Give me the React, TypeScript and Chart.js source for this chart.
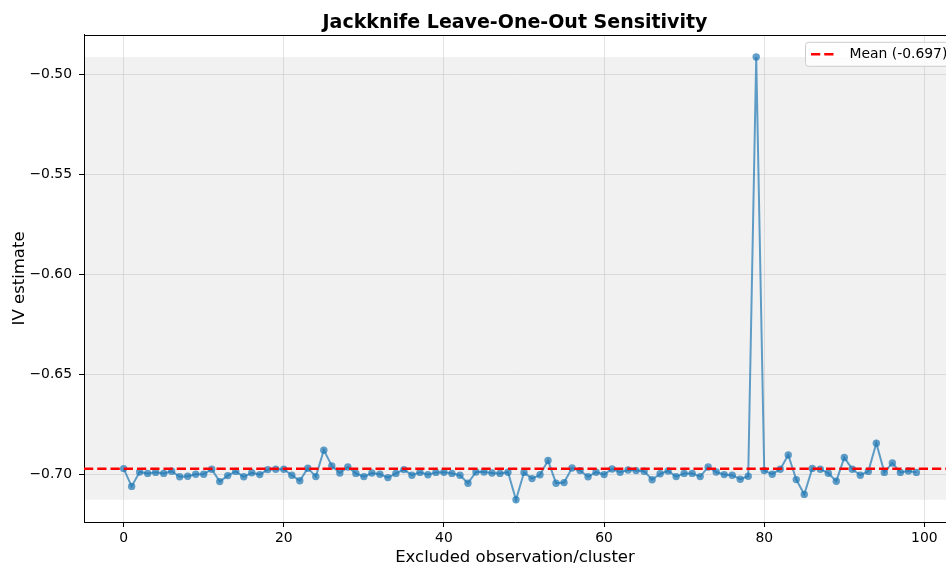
import { useEffect, useRef } from "react";
import { Chart, registerables } from "chart.js";

Chart.register(...registerables);

const TITLE = "Jackknife Leave-One-Out Sensitivity";
const X_LABEL = "Excluded observation/cluster";
const Y_LABEL = "IV estimate";
const X_TICKS = [0, 20, 40, 60, 80, 100];
const Y_TICKS = [-0.7, -0.65, -0.6, -0.55, -0.5];

const ESTIMATES = [
  -0.6972, -0.7061, -0.6989, -0.6996, -0.6991, -0.6996, -0.6985, -0.7013, -0.701, -0.7,
  -0.7, -0.6975, -0.7037, -0.7007, -0.6986, -0.7013, -0.6993, -0.7002, -0.6977, -0.6975,
  -0.6975, -0.7005, -0.7033, -0.697, -0.7012, -0.688, -0.6959, -0.6994, -0.6964, -0.6996,
  -0.7012, -0.6994, -0.7, -0.7017, -0.6996, -0.6977, -0.7005, -0.6991, -0.7003, -0.6991,
  -0.699, -0.6996, -0.7005, -0.7045, -0.6989, -0.6989, -0.6994, -0.6996, -0.699, -0.7128,
  -0.6991, -0.7022, -0.7003, -0.6932, -0.7045, -0.7042, -0.6969, -0.6982, -0.7013, -0.699,
  -0.7002, -0.6974, -0.699, -0.6979, -0.6982, -0.6985, -0.7028, -0.6998, -0.6984, -0.7012,
  -0.6996, -0.6996, -0.7012, -0.6964, -0.6989, -0.7002, -0.7005, -0.7025, -0.701, -0.4915,
  -0.6982, -0.7, -0.6975, -0.6904, -0.7027, -0.7101, -0.6971, -0.6975, -0.6995, -0.7035,
  -0.6917, -0.6975, -0.7005, -0.6986, -0.6845, -0.6991, -0.6944, -0.6991, -0.6984, -0.6991,
];
const EXCLUDED = ESTIMATES.map((_, i) => i);

const X_MIN = -4.95;
const X_MAX = 102.7;
const Y_MIN = -0.7239;
const Y_MAX = -0.4804;

const FONT = "'DejaVu Sans', sans-serif";
const LINE_COLOR = "rgba(31,119,180,0.7)";

export default function App() {
  const ref = useRef<HTMLCanvasElement | null>(null);

  useEffect(() => {
    if (!ref.current) return;
    const mean = ESTIMATES.reduce((a, b) => a + b, 0) / ESTIMATES.length;
    const lo = Math.min(...ESTIMATES);
    const hi = Math.max(...ESTIMATES);
    const legendText = `Mean (${mean.toFixed(3)})`;

    const bandPlugin = {
      id: "band",
      beforeDraw(chart: any) {
        const { ctx, chartArea, scales } = chart;
        const y1 = scales.y.getPixelForValue(hi);
        const y2 = scales.y.getPixelForValue(lo);
        ctx.save();
        ctx.fillStyle = "rgba(128,128,128,0.11)";
        ctx.fillRect(chartArea.left, y1, chartArea.right - chartArea.left, y2 - y1);
        ctx.restore();
      },
    };

    const meanPlugin = {
      id: "meanLine",
      afterDatasetsDraw(chart: any) {
        const { ctx, chartArea, scales } = chart;
        const y = scales.y.getPixelForValue(mean);
        ctx.save();
        ctx.strokeStyle = "#ff0000";
        ctx.lineWidth = 2.5;
        ctx.setLineDash([9.25, 4]);
        ctx.beginPath();
        ctx.moveTo(chartArea.left, y);
        ctx.lineTo(chartArea.right, y);
        ctx.stroke();
        ctx.restore();
      },
    };

    const framePlugin = {
      id: "frame",
      afterDraw(chart: any) {
        const { ctx, chartArea } = chart;
        ctx.save();
        ctx.strokeStyle = "#000";
        ctx.lineWidth = 1;
        ctx.beginPath();
        ctx.moveTo(chartArea.left, Math.round(chartArea.top) + 0.5);
        ctx.lineTo(chartArea.right, Math.round(chartArea.top) + 0.5);
        ctx.stroke();

        // legend box
        const bx = chartArea.right - 140.5;
        const by = chartArea.top + 7.5;
        const bw = 170;
        const bh = 24;
        ctx.fillStyle = "rgba(255,255,255,0.8)";
        ctx.strokeStyle = "#cccccc";
        ctx.beginPath();
        (ctx as any).roundRect(bx, by, bw, bh, 3);
        ctx.fill();
        ctx.stroke();
        const ly = by + bh / 2;
        ctx.strokeStyle = "#ff0000";
        ctx.lineWidth = 2.5;
        ctx.setLineDash([9.25, 4]);
        ctx.beginPath();
        ctx.moveTo(bx + 5.5, ly);
        ctx.lineTo(bx + 31, ly);
        ctx.stroke();
        ctx.setLineDash([]);
        ctx.fillStyle = "#000";
        ctx.font = `13.9px ${FONT}`;
        ctx.textBaseline = "middle";
        ctx.textAlign = "left";
        ctx.fillText(legendText, bx + 44, ly);
        ctx.restore();
      },
    };

    const chart = new Chart(ref.current, {
      type: "line",
      data: {
        datasets: [
          {
            data: EXCLUDED.map((x, i) => ({ x, y: ESTIMATES[i] })),
            borderColor: LINE_COLOR,
            backgroundColor: LINE_COLOR,
            pointBackgroundColor: LINE_COLOR,
            pointBorderColor: LINE_COLOR,
            borderWidth: 2,
            pointRadius: 3.7,
            pointBorderWidth: 0,
            tension: 0,
            fill: false,
          },
        ],
      },
      options: {
        responsive: false,
        animation: false,
        devicePixelRatio: 1,
        layout: { padding: { left: 0, right: 0, top: 0, bottom: 0 } },
        plugins: {
          legend: { display: false },
          tooltip: { enabled: false },
          title: {
            display: true,
            text: TITLE,
            fullSize: false,
            color: "#000",
            font: { family: FONT, size: 19, weight: "bold" },
            padding: { top: 12, bottom: 0 },
          },
        },
        scales: {
          x: {
            type: "linear",
            min: X_MIN,
            max: X_MAX,
            afterBuildTicks: (scale: any) => {
              scale.ticks = X_TICKS.map((v) => ({ value: v }));
            },
            afterFit: (scale: any) => {
              scale.height = 48;
            },
            ticks: {
              color: "#000",
              font: { family: FONT, size: 13.9 },
              padding: 3,
              maxRotation: 0,
              callback: (v: any) => String(v),
            },
            grid: {
              color: "rgba(176,176,176,0.35)",
              tickColor: "#000",
              tickLength: 5,
              drawTicks: true,
            },
            border: { display: true, color: "#000", width: 1 },
            title: {
              display: true,
              text: X_LABEL,
              color: "#000",
              font: { family: FONT, size: 16.5 },
              padding: { top: 2, bottom: 2 },
            },
          },
          y: {
            type: "linear",
            min: Y_MIN,
            max: Y_MAX,
            afterBuildTicks: (scale: any) => {
              scale.ticks = Y_TICKS.map((v) => ({ value: v }));
            },
            afterFit: (scale: any) => {
              scale.width = 84;
            },
            ticks: {
              color: "#000",
              font: { family: FONT, size: 13.9 },
              padding: 7,
              callback: (v: any) => {
                const n = Number(v);
                return (n < 0 ? "\u2212" : "") + Math.abs(n).toFixed(2);
              },
            },
            grid: {
              color: "rgba(176,176,176,0.35)",
              tickColor: "#000",
              tickLength: 5,
              drawTicks: true,
            },
            border: { display: true, color: "#000", width: 1 },
            title: {
              display: true,
              text: Y_LABEL,
              color: "#000",
              font: { family: FONT, size: 16.5 },
              padding: { top: 10, bottom: 2 },
            },
          },
        },
      } as any,
      plugins: [bandPlugin, meanPlugin, framePlugin],
    });

    return () => chart.destroy();
  }, []);

  return (
    <div style={{ position: "fixed", left: 0, top: 0, width: 946, height: 570, overflow: "hidden", background: "#fff" }}>
      <canvas ref={ref} width={950} height={570} style={{ width: 950, height: 570, display: "block" }} />
    </div>
  );
}
